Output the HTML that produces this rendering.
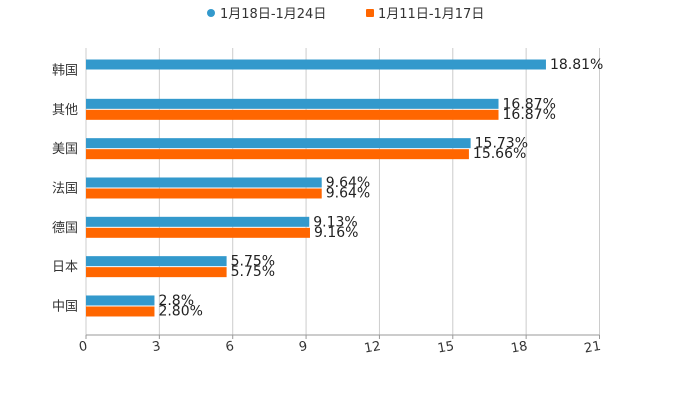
<!DOCTYPE html>
<html><head><meta charset="utf-8"><style>
body{margin:0;background:#fff;width:700px;height:400px;overflow:hidden}
svg text{font-family:"DejaVu Sans","Liberation Sans","Noto Sans CJK SC",sans-serif}
</style></head><body>
<svg id="chart" width="700" height="400" xmlns="http://www.w3.org/2000/svg">
<g>
 <g><circle cx="211" cy="13" r="4" fill="#3399CC"/><text x="220" y="18" font-size="13" fill="#333">1月18日-1月24日</text></g>
 <g><rect x="366" y="9" width="8" height="8" rx="1" fill="#FF6600"/><text x="378" y="18" font-size="13" fill="#333">1月11日-1月17日</text></g>
</g>
<g id="grid"></g>
<g id="bars"></g>
<g id="axes"></g>
</svg>
<script>
const categories=["韩国","其他","美国","法国","德国","日本","中国"];
const seriesBlue=[18.81,16.87,15.73,9.64,9.13,5.75,2.8];
const seriesOrange=[null,16.87,15.66,9.64,9.16,5.75,2.80];
const labelsBlue=["18.81%","16.87%","15.73%","9.64%","9.13%","5.75%","2.8%"];
const labelsOrange=["","16.87%","15.66%","9.64%","9.16%","5.75%","2.80%"];
const ticks=[0,3,6,9,12,15,18,21];
const NS="http://www.w3.org/2000/svg";
const L=86,R=599.5,T=48,B=335;
const x=v=>L+(v/21)*(R-L);
const yc=i=>69.5+39.33*i;
function mk(t,a,p){const e=document.createElementNS(NS,t);for(const k in a)e.setAttribute(k,a[k]);p.appendChild(e);return e;}
const grid=document.getElementById('grid'),bars=document.getElementById('bars'),axes=document.getElementById('axes');
ticks.forEach(t=>{
 const g=mk('line',{x1:x(t),x2:x(t),y1:T,y2:B,stroke:'#ccc','stroke-width':1},grid);
 
 
 const tm=mk('line',{x1:x(t),x2:x(t),y1:B,y2:B+4,stroke:'#999'},axes);
 
 
 const tx=mk('text',{x:x(t)+1,y:B+15,'font-size':13,fill:'#333','text-anchor':'end',transform:'rotate(-10 '+x(t)+' '+(B+10)+')'},axes);
 tx.textContent=t;
 
 
});
const ax=mk('line',{x1:L,x2:R,y1:B,y2:B,stroke:'#999'},axes);


categories.forEach((c,i)=>{
 const cy=yc(i);
 const lb=mk('text',{x:L-8,y:cy+5,'font-size':13,fill:'#333','text-anchor':'end'},axes);
 lb.textContent=c;
 
 
 if(seriesBlue[i]!=null){
  const b=mk('rect',{x:L,y:cy-10,width:x(seriesBlue[i])-L,height:10,fill:'#3399CC'},bars);
  
  
  const t=mk('text',{x:x(seriesBlue[i])+4,y:cy-0.5,'font-size':14,fill:'#222'},bars);
  t.textContent=labelsBlue[i];
  
  
 }
 if(seriesOrange[i]!=null){
  const b=mk('rect',{x:L,y:cy+1,width:x(seriesOrange[i])-L,height:10,fill:'#FF6600'},bars);
  
  
  const t=mk('text',{x:x(seriesOrange[i])+4,y:cy+10,'font-size':14,fill:'#222'},bars);
  t.textContent=labelsOrange[i];
  
  
 }
});
</script>
</body></html>
